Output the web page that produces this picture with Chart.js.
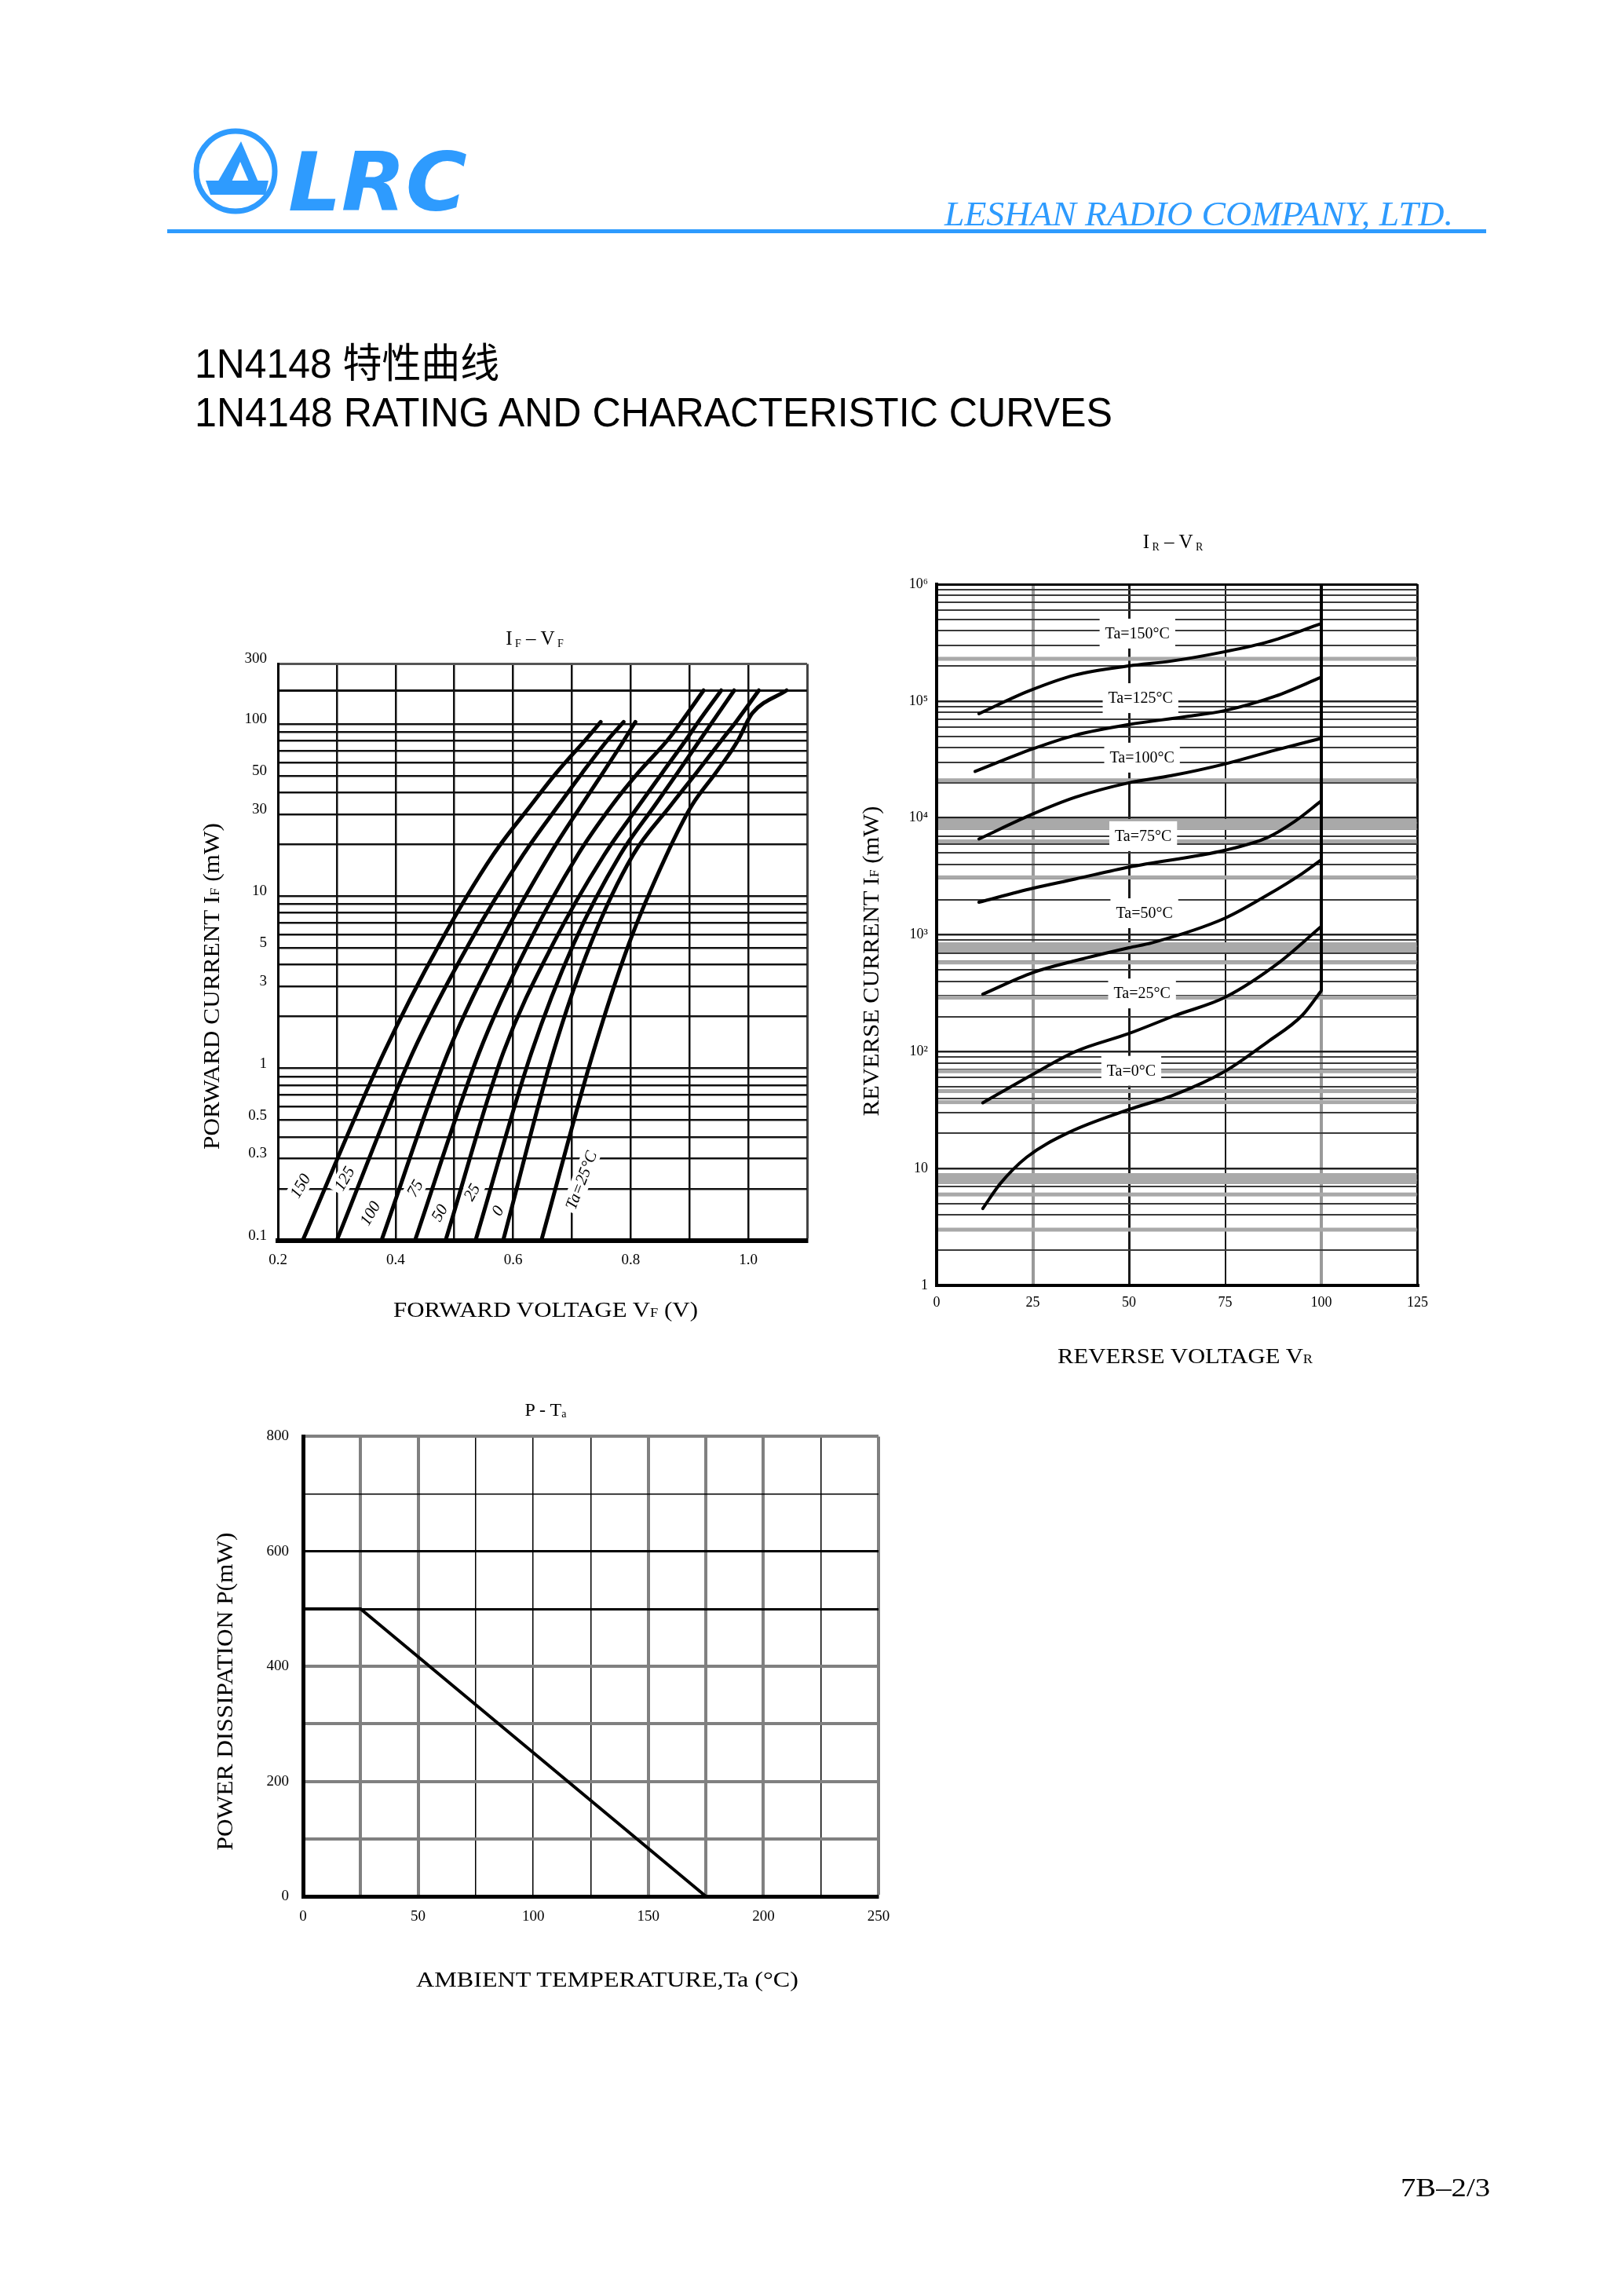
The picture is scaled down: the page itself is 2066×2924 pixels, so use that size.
<!DOCTYPE html>
<html lang="zh">
<head>
<meta charset="UTF-8">
<title>1N4148 特性曲线</title>
<script src="https://cdn.jsdelivr.net/npm/chart.js"></script>
<style>
  html, body { margin: 0; padding: 0; background: #fff; }
  body { position: relative; width: 2066px; height: 2924px; overflow: hidden; }
  canvas { position: absolute; }
  #page { position: absolute; left: 0; top: 0; pointer-events: none; }
  #page text { font-family: "Liberation Serif", "Times New Roman", serif; fill: #000; }
</style>
</head>
<body>
<canvas id="ifvf" width="800" height="820" style="left:250px;top:820px"></canvas>
<canvas id="irvr" width="710" height="960" style="left:1120px;top:720px"></canvas>
<canvas id="pta" width="850" height="660" style="left:300px;top:1800px"></canvas>

<svg id="page" width="2066" height="2924" viewBox="0 0 2066 2924">
  <!-- logo -->
  <ellipse cx="300" cy="218" rx="50" ry="51" fill="none" stroke="#2e9bfe" stroke-width="7"/>
  <polygon points="307,180 330,234 276,234" fill="#2e9bfe"/>
  <polygon points="306,206 318,234 294,234" fill="#fff"/>
  <polygon points="262,230 342,230 338,248 268,248" fill="#2e9bfe"/>
  <text x="367" y="268" style="font-family:'DejaVu Sans',sans-serif;font-weight:bold;font-style:oblique;font-size:104px;fill:#2e9bfe" textLength="228" lengthAdjust="spacingAndGlyphs">LRC</text>
  <text x="1203" y="287" style="font-style:italic;font-size:44px;fill:#2e9bfe" textLength="648" lengthAdjust="spacingAndGlyphs">LESHAN RADIO COMPANY, LTD.</text>
  <rect x="213" y="292" width="1680" height="5" fill="#2e9bfe"/>

  <!-- page titles -->
  <text x="248" y="481" style="font-family:'Liberation Sans','Noto Sans CJK SC',sans-serif;font-size:52px" textLength="388" lengthAdjust="spacingAndGlyphs">1N4148 特性曲线</text>
  <text x="248" y="543" style="font-family:'Liberation Sans',sans-serif;font-size:52px" textLength="1169" lengthAdjust="spacingAndGlyphs">1N4148 RATING AND CHARACTERISTIC CURVES</text>

  <!-- IF-VF texts -->
  <text x="681" y="821" text-anchor="middle" font-size="25">I<tspan font-size="14" dy="3"> F</tspan><tspan dy="-3"> – V</tspan><tspan font-size="14" dy="3"> F</tspan></text>
  <text x="501" y="1677" font-size="27" textLength="388" lengthAdjust="spacingAndGlyphs">FORWARD VOLTAGE V<tspan font-size="16">F</tspan> (V)</text>
  <text transform="translate(279,1256) rotate(-90)" text-anchor="middle" font-size="29" textLength="416" lengthAdjust="spacingAndGlyphs">PORWARD CURRENT I<tspan font-size="17">F</tspan> (mW)</text>

  <!-- IR-VR texts -->
  <text x="1494" y="698" text-anchor="middle" font-size="25">I<tspan font-size="14" dy="3"> R</tspan><tspan dy="-3"> – V</tspan><tspan font-size="14" dy="3"> R</tspan></text>
  <text x="1347" y="1736" font-size="27" textLength="325" lengthAdjust="spacingAndGlyphs">REVERSE VOLTAGE V<tspan font-size="16">R</tspan></text>
  <text transform="translate(1119,1224) rotate(-90)" text-anchor="middle" font-size="29" textLength="395" lengthAdjust="spacingAndGlyphs">REVERSE CURRENT I<tspan font-size="17">F</tspan> (mW)</text>

  <!-- P-Ta texts -->
  <text x="695" y="1803" text-anchor="middle" font-size="24">P - T<tspan font-size="14" dy="2">a</tspan></text>
  <text x="530" y="2530" font-size="28" textLength="487" lengthAdjust="spacingAndGlyphs">AMBIENT TEMPERATURE,Ta (°C)</text>
  <text transform="translate(296,2154) rotate(-90)" text-anchor="middle" font-size="29" textLength="405" lengthAdjust="spacingAndGlyphs">POWER DISSIPATION P(mW)</text>

  <text x="1784" y="2797" font-size="33" textLength="114" lengthAdjust="spacingAndGlyphs">7B–2/3</text>
</svg>

<script>
// ---------------- IF - VF data ----------------
const vfGrid = [0.2, 0.3, 0.4, 0.5, 0.6, 0.7, 0.8, 0.9, 1.0, 1.1];
const vfGridLabels = ['0.2', '', '0.4', '', '0.6', '', '0.8', '', '1.0', ''];
const ifLabelValues = [0.1, 0.3, 0.5, 1, 3, 5, 10, 30, 50, 100, 224];
const ifLabelTexts = ['0.1', '0.3', '0.5', '1', '3', '5', '10', '30', '50', '100', '300'];

// forward current (mA) read points
const ifLow = [0.1, 1.23, 5.3, 17.4, 33.7, 52.3, 81, 103];
const ifHigh = [0.1, 1.23, 5.3, 17.4, 33.7, 52.3, 81, 103, 157];
const ifCold = [0.1, 1.23, 5.3, 17.4, 33.7, 52.3, 81, 103, 116, 157];

// forward voltage (V) for each temperature
const vf150 = [0.242, 0.380, 0.475, 0.566, 0.630, 0.674, 0.723, 0.749];
const vf125 = [0.300, 0.429, 0.525, 0.617, 0.677, 0.718, 0.761, 0.788];
const vf100 = [0.376, 0.489, 0.577, 0.662, 0.716, 0.753, 0.789, 0.808];
const vf75 = [0.433, 0.542, 0.626, 0.710, 0.768, 0.813, 0.863, 0.886, 0.924];
const vf50 = [0.485, 0.583, 0.668, 0.755, 0.814, 0.854, 0.894, 0.915, 0.954];
const vf25 = [0.536, 0.631, 0.703, 0.782, 0.841, 0.880, 0.918, 0.939, 0.976];
const vf0 = [0.583, 0.668, 0.732, 0.804, 0.868, 0.912, 0.955, 0.979, 1.018];
const vfM25 = [0.648, 0.736, 0.797, 0.861, 0.904, 0.945, 0.983, 0.998, 1.007, 1.065];

const vfNames = ['150', '125', '100', '75', '50', '25', '0', 'Ta=25°C'];
const vfNameV = [0.238, 0.313, 0.357, 0.433, 0.475, 0.530, 0.574, 0.716];
const vfNameI = [0.208, 0.229, 0.144, 0.201, 0.145, 0.191, 0.149, 0.224];

// ---------------- IR - VR data ----------------
const vrGrid = [0, 25, 50, 75, 100, 125];
const irLabelValues = [1, 10, 100, 1e3, 1e4, 1e5, 1e6];
const irLabelTexts = ['1', '10', '10²', '10³', '10⁴', '10⁵', '10⁶'];

const vr150 = [11, 24, 36, 50, 61, 75, 86, 100];
const ir150 = [7.8e4, 1.22e5, 1.67e5, 2.0e5, 2.2e5, 2.65e5, 3.2e5, 4.6e5];
const vr125 = [10, 25, 36, 50, 64, 75, 88, 100];
const ir125 = [2.5e4, 3.9e4, 5.1e4, 6.3e4, 7.3e4, 8.3e4, 1.1e5, 1.6e5];
const vr100 = [11, 25, 36, 50, 61, 75, 88, 100];
const ir100 = [6.6e3, 1.08e4, 1.5e4, 2.0e4, 2.3e4, 2.9e4, 3.8e4, 4.8e4];
const vr75 = [11, 25, 36, 50, 75, 86, 93, 100];
const ir75 = [1.9e3, 2.5e3, 3.0e3, 3.8e3, 5.3e3, 6.8e3, 9.3e3, 1.4e4];
const vr50 = [12, 25, 36, 50, 56, 75, 86, 95, 100];
const ir50 = [310, 475, 600, 775, 855, 1390, 2190, 3340, 4390];
const vr25 = [12, 25, 36, 50, 62, 75, 89, 100];
const ir25 = [36.5, 64, 100, 143, 204, 292, 578, 1180];
const vr0 = [12, 16.5, 23.4, 34.3, 50, 62, 75, 86, 95, 100];
const ir0 = [4.55, 7.4, 12.5, 20.3, 32, 43, 68, 121, 204, 332];
const vrBreak = [100, 100];
const irBreak = [332, 1e6];

const irNames = ['Ta=150°C', 'Ta=125°C', 'Ta=100°C', 'Ta=75°C', 'Ta=50°C', 'Ta=25°C', 'Ta=0°C'];
const irNameV = [52.2, 53, 53.4, 53.7, 54, 53.4, 50.6];
const irNameI = [3.78e5, 1.06e5, 3.28e4, 6980, 1530, 315, 68.6];

// ---------------- P - Ta data ----------------
const taGrid = [0, 25, 50, 75, 100, 125, 150, 175, 200, 225, 250];
const taLabels = ['0', '', '50', '', '100', '', '150', '', '200', '', '250'];
const pGrid = [0, 100, 200, 300, 400, 500, 600, 700, 800];
const pLabels = ['0', '', '200', '', '400', '', '600', '', '800'];
const taValues = [0, 25, 175];
const pValues = [500, 500, 0];

// ---------------- helpers / styles ----------------
const serif = '"Liberation Serif", "Times New Roman", serif';
const tickFont = { family: serif, size: 19 };
const irBandValues = [2.3e5, 2.1e4, 8.8e3, 6.3e3, 3.1e3, 780, 580, 290, 68, 46, 37, 8.2, 6, 3];
const irBandWidths = [5, 5, 14, 5, 5, 13, 5, 5, 5, 5, 5, 14, 5, 5];

function pts(xs, ys) { return xs.map((v, k) => ({ x: v, y: ys[k] })); }
function same(a, b) { return Math.abs(a - b) <= 1e-6 * Math.max(1, Math.abs(b)); }
function labelFor(v, values, texts) {
  const k = values.findIndex(u => same(v, u));
  return k < 0 ? '' : texts[k];
}
function curve(data, width) {
  return { data: data, borderColor: '#000', borderWidth: width, pointRadius: 0,
           tension: 0.4, cubicInterpolationMode: 'monotone', borderCapStyle: 'round', fill: false };
}
function straight(data, width) {
  return { data: data, borderColor: '#000', borderWidth: width, pointRadius: 0,
           tension: 0, cubicInterpolationMode: 'default', borderCapStyle: 'butt', fill: false };
}
function drawRotLabel(ctx, text, px, py, deg, padX, h) {
  ctx.save();
  ctx.translate(px, py);
  ctx.rotate(deg * Math.PI / 180);
  const w = ctx.measureText(text).width;
  ctx.fillStyle = '#fff';
  ctx.fillRect(-w / 2 - padX, -h / 2, w + 2 * padX, h);
  ctx.fillStyle = '#000';
  ctx.fillText(text, 0, 1);
  ctx.restore();
}
const baseOpts = {
  responsive: false,
  animation: false,
  events: [],
  plugins: { legend: { display: false }, tooltip: { enabled: false } }
};

// ---------------- chart 1: IF - VF ----------------
const ifGrid = [];
[0.1, 1, 10].forEach(d => { for (let m = 1; m <= 9; m++) ifGrid.push(+(m * d).toPrecision(3)); });
ifGrid.push(100, 157, 224);

const vfNamePlugin = {
  id: 'vfNames',
  beforeDatasetsDraw(chart) {
    const { ctx, scales: { x, y } } = chart;
    ctx.save();
    ctx.font = 'italic 21px ' + serif;
    ctx.textAlign = 'center';
    ctx.textBaseline = 'middle';
    vfNames.forEach((t, i) => {
      const deg = i === vfNames.length - 1 ? -69 : -60;
      drawRotLabel(ctx, t, x.getPixelForValue(vfNameV[i]), y.getPixelForValue(vfNameI[i]), deg, 4, 24);
    });
    ctx.restore();
  }
};

new Chart(document.getElementById('ifvf'), {
  type: 'line',
  data: {
    datasets: [
      curve(pts(vf150, ifLow), 5), curve(pts(vf125, ifLow), 5), curve(pts(vf100, ifLow), 5),
      curve(pts(vf75, ifHigh), 5), curve(pts(vf50, ifHigh), 5), curve(pts(vf25, ifHigh), 5),
      curve(pts(vf0, ifHigh), 5), curve(pts(vfM25, ifCold), 5)
    ]
  },
  options: Object.assign({}, baseOpts, {
    layout: { padding: { top: 23, right: 22, left: 0, bottom: 0 } },
    scales: {
      x: {
        type: 'linear', min: 0.2, max: 1.1, bounds: 'data',
        afterBuildTicks: s => { s.ticks = vfGrid.map(v => ({ value: v })); },
        afterFit: s => { s.height = 60; },
        ticks: { autoSkip: false, maxRotation: 0, padding: 14, color: '#000', font: tickFont,
                 callback: (v, i) => vfGridLabels[i] },
        grid: { drawTicks: false,
                color: c => (c.tick && same(c.tick.value, 1.1)) ? '#444' : '#111',
                lineWidth: c => (c.tick && same(c.tick.value, 1.1)) ? 3 : 2.5 },
        border: { color: '#000', width: 6 }
      },
      y: {
        type: 'logarithmic', min: 0.1, max: 224,
        afterBuildTicks: s => { s.ticks = ifGrid.map(v => ({ value: v })); },
        afterFit: s => { s.width = 104; },
        ticks: { autoSkip: false, padding: 14, labelOffset: -6, color: '#000', font: tickFont,
                 callback: v => labelFor(v, ifLabelValues, ifLabelTexts) },
        grid: { drawTicks: false,
                color: c => (c.tick && same(c.tick.value, 224)) ? '#555' : '#111',
                lineWidth: c => (c.tick && (same(c.tick.value, 224) || same(c.tick.value, 157))) ? 3 : 2.5 },
        border: { color: '#000', width: 3 }
      }
    }
  }),
  plugins: [vfNamePlugin]
});

// ---------------- chart 2: IR - VR ----------------
const irGrid = [];
for (let e = 0; e < 6; e++) for (let m = 1; m <= 9; m++) irGrid.push(m * Math.pow(10, e));
irGrid.push(1e6);
const vrGridColor = { 0: '#000', 25: '#9a9a9a', 50: '#1a1a1a', 75: '#1a1a1a', 100: '#9a9a9a', 125: '#111' };
const vrGridWidth = { 0: 4, 25: 4, 50: 3, 75: 2, 100: 4, 125: 3 };

const irPlugin = {
  id: 'irDecor',
  beforeDatasetsDraw(chart) {
    const { ctx, chartArea: a, scales: { x, y } } = chart;
    ctx.save();
    ctx.beginPath();
    ctx.rect(a.left + 2, a.top, a.right - a.left - 3, a.bottom - a.top);
    ctx.clip();
    ctx.fillStyle = '#a9a9a9';
    irBandValues.forEach((v, i) => {
      const py = y.getPixelForValue(v);
      ctx.fillRect(a.left, py - irBandWidths[i] / 2, a.right - a.left, irBandWidths[i]);
    });
    ctx.restore();
    ctx.save();
    ctx.font = '20px ' + serif;
    ctx.textAlign = 'center';
    ctx.textBaseline = 'middle';
    irNames.forEach((t, i) => {
      drawRotLabel(ctx, t, x.getPixelForValue(irNameV[i]), y.getPixelForValue(irNameI[i]), 0, 7, 38);
    });
    ctx.restore();
  }
};

new Chart(document.getElementById('irvr'), {
  type: 'line',
  data: {
    datasets: [
      curve(pts(vr150, ir150), 4), curve(pts(vr125, ir125), 4), curve(pts(vr100, ir100), 4),
      curve(pts(vr75, ir75), 4), curve(pts(vr50, ir50), 4), curve(pts(vr25, ir25), 4),
      curve(pts(vr0, ir0), 4), straight(pts(vrBreak, irBreak), 4)
    ]
  },
  options: Object.assign({}, baseOpts, {
    layout: { padding: { top: 24, right: 22, left: 0, bottom: 0 } },
    scales: {
      x: {
        type: 'linear', min: 0, max: 125, bounds: 'data',
        afterBuildTicks: s => { s.ticks = vrGrid.map(v => ({ value: v })); },
        afterFit: s => { s.height = 43; },
        ticks: { autoSkip: false, maxRotation: 0, padding: 11, color: '#000', font: { family: serif, size: 18 },
                 callback: v => String(v) },
        grid: { drawTicks: false,
                color: c => c.tick ? (vrGridColor[c.tick.value] || '#111') : '#111',
                lineWidth: c => c.tick ? (vrGridWidth[c.tick.value] || 2) : 2 },
        border: { color: '#000', width: 4 }
      },
      y: {
        type: 'logarithmic', min: 1, max: 1e6,
        afterBuildTicks: s => { s.ticks = irGrid.map(v => ({ value: v })); },
        afterFit: s => { s.width = 73; },
        ticks: { autoSkip: false, padding: 11, color: '#000', font: { family: serif, size: 18 },
                 callback: v => labelFor(v, irLabelValues, irLabelTexts) },
        grid: { drawTicks: false,
                color: c => {
                  if (!c.tick) return '#333';
                  if (same(c.tick.value, 1e6)) return '#000';
                  return irLabelValues.some(u => same(c.tick.value, u)) ? '#222' : '#3a3a3a';
                },
                lineWidth: c => {
                  if (!c.tick) return 2;
                  if (same(c.tick.value, 1e6)) return 3;
                  return irLabelValues.some(u => same(c.tick.value, u)) ? 2.5 : 2;
                } },
        border: { color: '#000', width: 4 }
      }
    }
  }),
  plugins: [irPlugin]
});

// ---------------- chart 3: P - Ta ----------------
const taGray = [25, 50, 150, 175, 200, 250];
const pGray = [100, 200, 300, 400, 800];
const pThick = [500, 600];

new Chart(document.getElementById('pta'), {
  type: 'line',
  data: { datasets: [straight(pts(taValues, pValues), 4)] },
  options: Object.assign({}, baseOpts, {
    layout: { padding: { top: 25, right: 31, left: 0, bottom: 0 } },
    scales: {
      x: {
        type: 'linear', min: 0, max: 250, bounds: 'data',
        afterBuildTicks: s => { s.ticks = taGrid.map(v => ({ value: v })); },
        afterFit: s => { s.height = 45; },
        ticks: { autoSkip: false, maxRotation: 0, padding: 15, color: '#000', font: tickFont,
                 callback: (v, i) => taLabels[i] },
        grid: { drawTicks: false,
                color: c => (c.tick && taGray.includes(c.tick.value)) ? '#808080' : '#000',
                lineWidth: c => (c.tick && taGray.includes(c.tick.value)) ? 4 : 1.5 },
        border: { color: '#000', width: 5 }
      },
      y: {
        type: 'linear', min: 0, max: 800, bounds: 'data',
        afterBuildTicks: s => { s.ticks = pGrid.map(v => ({ value: v })); },
        afterFit: s => { s.width = 86; },
        ticks: { autoSkip: false, padding: 18, color: '#000', font: tickFont,
                 callback: (v, i) => pLabels[i] },
        grid: { drawTicks: false,
                color: c => {
                  if (!c.tick) return '#000';
                  return pGray.includes(c.tick.value) ? '#808080' : '#000';
                },
                lineWidth: c => {
                  if (!c.tick) return 2;
                  if (pGray.includes(c.tick.value)) return 4;
                  return pThick.includes(c.tick.value) ? 3 : 1.5;
                } },
        border: { color: '#000', width: 5 }
      }
    }
  })
});
</script>
</body>
</html>
